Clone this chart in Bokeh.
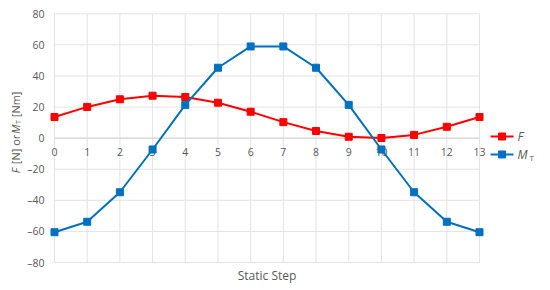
import math
from bokeh.plotting import figure
from bokeh.models import Range1d
from bokeh.core.properties import value
from bokeh.embed import file_html
from bokeh.resources import INLINE

steps = list(range(14))
step_labels = [str(s) for s in steps]
force = [13.6, 20.1, 25.0, 27.3, 26.5, 22.8, 17.0, 10.3, 4.6, 0.9, 0.1, 2.1, 7.3, 13.6]
torque = [-60.5, -53.8, -34.8, -7.3, 21.4, 45.3, 59.0, 59.0, 45.3, 21.4, -7.3, -34.8, -53.8, -60.5]
y_ticks = [-80, -60, -40, -20, 0, 20, 40, 60, 80]
y_tick_labels = ["\u201380", "\u201360", "\u201340", "\u201320", "0", "20", "40", "60", "80"]

FONT = "Open Sans"
TXT = "#595959"
GRID = "#e3e3e3"
RED = "#ff0000"
BLUE = "#0070c0"

x0, x1 = steps[0], steps[-1]
y0, y1 = y_ticks[0], y_ticks[-1]

p = figure(width=545, height=288, output_backend="svg", toolbar_location=None,
           x_range=Range1d(-1.499, 14.866), y_range=Range1d(-93.51, 85.34),
           x_axis_location=None, y_axis_location=None)
p.outline_line_color = None
p.grid.visible = False

# grid lines limited to the plotting area 0..13 / -80..80
p.segment(x0=steps, y0=[y0] * len(steps), x1=steps, y1=[y1] * len(steps),
          line_color=GRID, line_width=1)
p.segment(x0=[x0] * len(y_ticks), y0=y_ticks, x1=[x1] * len(y_ticks), y1=y_ticks,
          line_color=GRID, line_width=1)
p.segment(x0=[x0], y0=[0], x1=[x1], y1=[0], line_color="#d4d4d4", line_width=1)

# tick labels
p.text(steps, [0] * len(steps), text=step_labels, text_align="center", text_baseline="top",
       y_offset=10, text_font=value(FONT), text_font_size="10.5px", text_color=TXT)
p.text([x0] * len(y_ticks), y_ticks, text=y_tick_labels, text_align="right",
       text_baseline="middle", x_offset=-10, text_font=value(FONT),
       text_font_size="10.5px", text_color=TXT)
p.text([(x0 + x1) / 2], [y0], text=["Static Step"], text_align="center", text_baseline="top",
       y_offset=4, text_font=value(FONT), text_font_size="12px", text_color=TXT)

# series
p.line(steps, force, line_color=RED, line_width=2)
p.scatter(steps, force, marker="square", size=7, fill_color=RED, line_color=RED)
p.line(steps, torque, line_color=BLUE, line_width=2)
p.scatter(steps, torque, marker="square", size=7, fill_color=BLUE, line_color=BLUE)

# legend (keys drawn to the right of the plotting area)
leg_y = [1.06, -10.5]
leg_col = [RED, BLUE]
p.segment(x0=[13.34] * 2, y0=leg_y, x1=[14.04] * 2, y1=leg_y, line_color=leg_col, line_width=2)
p.scatter([13.69] * 2, leg_y, marker="square", size=7, fill_color=leg_col, line_color=leg_col)
p.text([14.16] * 2, leg_y, text=["F", "M"], text_align="left", text_baseline="middle",
       text_font=value(FONT), text_font_size="12px", text_font_style="italic", text_color=TXT)
p.text([14.53], [-12.45], text=["T"], text_align="left", text_baseline="middle",
       text_font=value(FONT), text_font_size="8px", text_color=TXT)

# y-axis title built of rotated pieces (italic symbols, subscript T)
pieces = [("F", -1.193, -22.55, "11px", "italic"),
          ("[N] or", -1.193, -16.76, "11px", "normal"),
          ("M", -1.193, 2.86, "11px", "italic"),
          ("T", -1.101, 9.17, "7px", "normal"),
          ("[Nm]", -1.193, 13.48, "11px", "normal")]
for t, x, y, fs, st in pieces:
    p.text([x], [y], text=[t], angle=math.pi / 2, text_align="left", text_baseline="middle",
           text_font=value(FONT), text_font_size=fs, text_font_style=st, text_color=TXT)

open("out.html", "w").write(file_html(p, INLINE))
